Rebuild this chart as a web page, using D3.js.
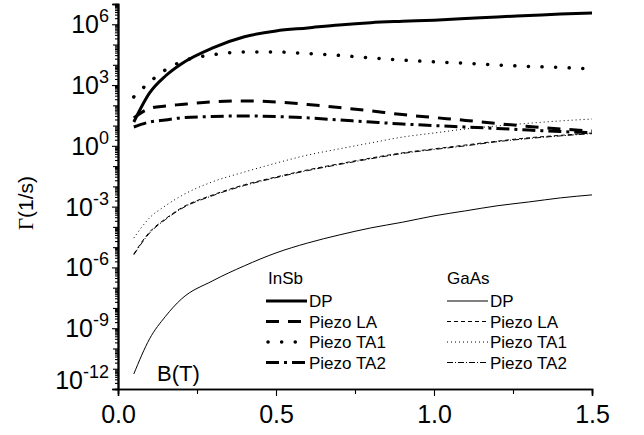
<!DOCTYPE html>
<html>
<head>
  <meta charset="utf-8">
  <script src="https://cdn.jsdelivr.net/npm/d3@7"></script>
  <style>
    body { margin: 0; background: #fff; }
    text { font-family: "Liberation Sans", Arial, sans-serif; fill: #000; }
  </style>
</head>
<body>
  <div id="chart"></div>
  <script>
    // magnetic field B (T)
    var bField = [0.05, 0.1, 0.15, 0.2, 0.3, 0.4, 0.5, 0.6, 0.7, 0.8, 0.9, 1.0, 1.1, 1.2, 1.3, 1.4, 1.5];

    // relaxation rates Gamma (1/s)
    var insbDP  = [15, 410, 2.8e3, 1.1e4, 6.8e4, 2.4e5, 4.7e5, 6.6e5, 9.3e5, 1.2e6, 1.4e6, 1.6e6, 1.9e6, 2.3e6, 2.7e6, 3.2e6, 3.6e6];
    var insbLA  = [24, 70, 93, 110, 147, 165, 147, 110, 78, 53, 35, 25, 18, 12.6, 9.1, 6.8, 5.4];
    var insbTA1 = [260, 1.4e3, 5.6e3, 1.4e4, 3.1e4, 4.3e4, 4.3e4, 3.6e4, 2.9e4, 2.2e4, 1.7e4, 1.4e4, 1.2e4, 9.8e3, 8.3e3, 7.4e3, 6.2e3];
    var insbTA2 = [8.5, 15, 19, 24, 28, 30, 28, 24, 19, 15, 12, 10, 8.5, 7.2, 6.0, 5.1, 4.4];

    var gaasDP  = [5.5e-12, 3.0e-10, 3.8e-9, 2.7e-8, 2.2e-7, 1.2e-6, 5.2e-6, 1.6e-5, 4.0e-5, 8.9e-5, 1.7e-4, 3.5e-4, 6.2e-4, 1.1e-3, 1.7e-3, 2.7e-3, 3.8e-3];
    var gaasLA  = [4.6e-6, 5.6e-5, 2.5e-4, 8.5e-4, 3.8e-3, 1.2e-2, 2.9e-2, 6.5e-2, 0.13, 0.25, 0.45, 0.71, 1.1, 1.7, 2.5, 3.3, 4.3];
    var gaasTA1 = [2.8e-5, 2.8e-4, 1.1e-3, 3.4e-3, 1.7e-2, 5.1e-2, 0.14, 0.35, 0.71, 1.4, 2.7, 4.3, 6.8, 9.6, 13, 17, 21];
    var gaasTA2 = [4.2e-6, 5.0e-5, 2.3e-4, 7.8e-4, 3.5e-3, 1.1e-2, 2.7e-2, 6.0e-2, 0.12, 0.23, 0.42, 0.66, 1.0, 1.6, 2.3, 3.1, 4.0];

    var xTicks = [0, 0.5, 1.0, 1.5];
    var xMinorTicks = [0.25, 0.75, 1.25];
    var yLabelExps = [6, 3, 0, -3, -6, -9, -12];
    var legendNames = ["DP", "Piezo LA", "Piezo TA1", "Piezo TA2"];
    var legendGroups = ["InSb", "GaAs"];

    // line styles: thick for InSb, thin for GaAs
    var series = [
      { data: insbDP,  w: 3,   dash: null,          cap: "butt" },
      { data: insbLA,  w: 3,   dash: "13,9",        cap: "butt" },
      { data: insbTA1, w: 3.5, dash: "0.1,13.5",    cap: "round" },
      { data: insbTA2, w: 3,   dash: "13,5,3,5",    cap: "butt" },
      { data: gaasDP,  w: 1,   dash: null,          cap: "butt" },
      { data: gaasLA,  w: 1,   dash: "4,3",         cap: "butt" },
      { data: gaasTA1, w: 1,   dash: "1,3",         cap: "butt" },
      { data: gaasTA2, w: 1,   dash: "6,2,1,2",     cap: "butt" }
    ];

    var W = 644, H = 435;
    var margin = { left: 118, right: 52, top: 4, bottom: 46 };

    var svg = d3.select("#chart").append("svg")
      .attr("width", W).attr("height", H);

    var x = d3.scaleLinear().domain([0, 1.5]).range([margin.left, W - margin.right]);
    var y = d3.scaleLog().domain([1e-12, 1e7]).range([H - margin.bottom, margin.top]);

    // y tick values
    var decades = d3.range(-12, 8);
    var labelled = yLabelExps.map(function (e) { return Math.pow(10, e); });
    var otherDecades = decades.filter(function (e) { return yLabelExps.indexOf(e) < 0; })
      .map(function (e) { return Math.pow(10, e); });
    var minors = [];
    decades.slice(0, -1).forEach(function (e) {
      for (var m = 2; m <= 9; m++) minors.push(m * Math.pow(10, e));
    });

    function styleAxis(g) {
      g.select(".domain").attr("stroke-width", 1.6);
      g.selectAll(".tick line").attr("stroke-width", 1.1);
    }

    svg.append("g").attr("transform", "translate(" + margin.left + ",0)")
      .call(d3.axisLeft(y).tickValues(minors).tickSize(3).tickFormat(""))
      .call(styleAxis);
    svg.append("g").attr("transform", "translate(" + margin.left + ",0)")
      .call(d3.axisLeft(y).tickValues(otherDecades).tickSize(5).tickFormat(""))
      .call(styleAxis);
    svg.append("g").attr("transform", "translate(" + margin.left + ",0)")
      .call(d3.axisLeft(y).tickValues(labelled).tickSize(6).tickFormat(""))
      .call(styleAxis);

    // y labels 10^n
    yLabelExps.forEach(function (e) {
      var yy = y(Math.pow(10, e)) + (e === -12 ? 0 : 9);
      var t = svg.append("text")
        .attr("x", 109).attr("y", yy)
        .attr("text-anchor", "end");
      t.append("tspan").style("font-size", "25px").text("10");
      t.append("tspan").style("font-size", "18px").attr("dy", -11).text(e < 0 ? "-" + (-e) : e);
    });

    // x axis
    var gx = svg.append("g").attr("transform", "translate(0," + (H - margin.bottom) + ")");
    gx.call(d3.axisBottom(x).tickValues(xMinorTicks).tickSize(5).tickFormat(""))
      .call(styleAxis);
    var gx2 = svg.append("g").attr("transform", "translate(0," + (H - margin.bottom) + ")");
    gx2.call(d3.axisBottom(x).tickValues(xTicks).tickSize(7).tickPadding(9).tickFormat(d3.format(".1f")))
      .call(styleAxis);
    gx2.selectAll(".tick text")
      .style("font-family", "'Liberation Sans', Arial, sans-serif")
      .style("font-size", "25px").attr("fill", "#000");

    // axis titles
    var yt = svg.append("text")
      .attr("transform", "translate(33,203) rotate(-90)")
      .attr("text-anchor", "middle")
      .style("font-size", "21px");
    yt.append("tspan").style("font-family", "'Liberation Serif', serif").text("\u0393");
    yt.append("tspan").text("(1/s)");

    svg.append("text").attr("x", 157).attr("y", 381)
      .style("font-size", "22px").text("B(T)");

    // curves
    var line = d3.line()
      .curve(d3.curveMonotoneX)
      .x(function (d) { return x(d[0]); })
      .y(function (d) { return y(d[1]); });

    series.forEach(function (s) {
      var pts = d3.zip(bField, s.data);
      svg.append("path")
        .datum(pts)
        .attr("d", line)
        .attr("fill", "none")
        .attr("stroke", "#000")
        .attr("stroke-width", s.w)
        .attr("stroke-linecap", s.cap)
        .attr("stroke-linejoin", "round")
        .attr("stroke-dasharray", s.dash);
    });

    // legend
    var legX = [266, 447];
    legendGroups.forEach(function (grp, gi) {
      var lx = legX[gi];
      svg.append("text").attr("x", lx + (gi === 0 ? 2 : 0)).attr("y", 284)
        .style("font-size", "17px").text(grp);
      legendNames.forEach(function (name, i) {
        var s = series[gi * 4 + i];
        var by = 307 + i * 20.5;
        svg.append("line")
          .attr("x1", lx + (s.cap === "round" ? 2 : 0)).attr("x2", lx + 41)
          .attr("y1", by - 6).attr("y2", by - 6)
          .attr("stroke", "#000")
          .attr("stroke-width", s.w)
          .attr("stroke-linecap", s.cap)
          .attr("stroke-dasharray", s.dash);
        svg.append("text").attr("x", lx + 43).attr("y", by)
          .style("font-size", "17px").text(name);
      });
    });
  </script>
</body>
</html>
